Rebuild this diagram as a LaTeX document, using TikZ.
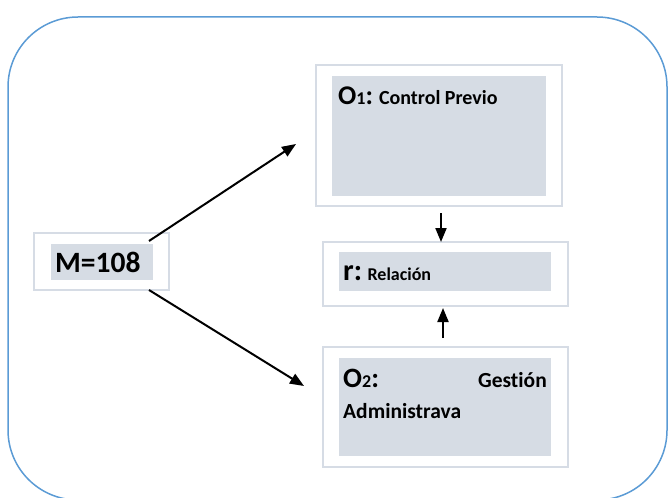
\documentclass[tikz,border=0pt]{standalone}
\usepackage{fontspec}
\setmainfont{Carlito}[Ligatures=NoCommon]
\usetikzlibrary{arrows.meta,positioning}
\definecolor{frameblue}{HTML}{5B9BD5}
\definecolor{boxline}{HTML}{D6DCE5}
\definecolor{boxfill}{HTML}{D6DCE4}
\tikzset{>={Triangle[length=14pt,width=11pt]}}
\tikzset{outer box/.style={draw=boxline,line width=2pt,fill=white,inner sep=0pt},
         inner box/.style={fill=boxfill,inner sep=0pt},
         label text/.style={inner sep=0pt,font=\bfseries},
            }
\newcommand{\fs}[1]{\fontsize{#1}{#1}\selectfont}

\begin{document}
\begin{tikzpicture}[x=1pt,y=-1pt]

    \useasboundingbox (0,0) rectangle (668,497);
    \clip (0,0) rectangle (668,497);
    \draw[frameblue,line width=1.5pt,rounded corners=70pt] (8,17) rectangle (667,500);

    % M
    \node[outer box,minimum width=135pt,minimum height=57pt] (mbox) at (101.5,261.5) {};
    \node[inner box,minimum width=102pt,minimum height=36pt] (mfill) at (102,262) {};
    \node[label text,anchor=base west] (mtext) at (55,272) {\fs{29.5}M=108};

    % O1
    \node[outer box,minimum width=246pt,minimum height=141pt] (o1box) at (439,135.5) {};
    \node[inner box,minimum width=214pt,minimum height=120pt] (o1fill) at (439,136) {};
    \node[label text,anchor=base west] (o1text) at (338,105) {\fs{27}O\fs{18}1\fs{27}:\fs{20} Control Previo};

    % r
    \node[outer box,minimum width=245pt,minimum height=64pt] (rbox) at (445.5,274) {};
    \node[inner box,minimum width=212pt,minimum height=39pt] (rfill) at (445,271.5) {};
    \node[label text,anchor=base west] (rtext) at (343,280) {\fs{30}r:\fs{18} Relación};

    % O2
    \node[outer box,minimum width=245pt,minimum height=120pt] (o2box) at (445.5,407) {};
    \node[inner box,minimum width=212pt,minimum height=98pt] (o2fill) at (445,407) {};
    \node[label text,anchor=base west] (o2text) at (343,387) {\fs{28}O\fs{18}2\fs{28}:};
    \node[label text,anchor=base east] (o2word) at (547,387) {\fs{21.5}Gestión};
    \node[label text,anchor=base west] (o2line) at (343,418) {\fs{21.5}Administrava};

    \coordinate (m-up) at (149,241);
    \coordinate (o1-in) at (296,144);
    \coordinate (m-down) at (149,290);
    \coordinate (o2-in) at (304,386);
    \coordinate (o1-out) at (441,213);
    \coordinate (r-top) at (441,242);
    \coordinate (o2-out) at (443,338);
    \coordinate (r-bottom) at (443,308);

    \path[line width=2pt]
    (m-up) edge[->] (o1-in)
    (m-down) edge[->] (o2-in)
    (o1-out) edge[->] (r-top)
    (o2-out) edge[->] (r-bottom);

\end{tikzpicture}
\end{document}
